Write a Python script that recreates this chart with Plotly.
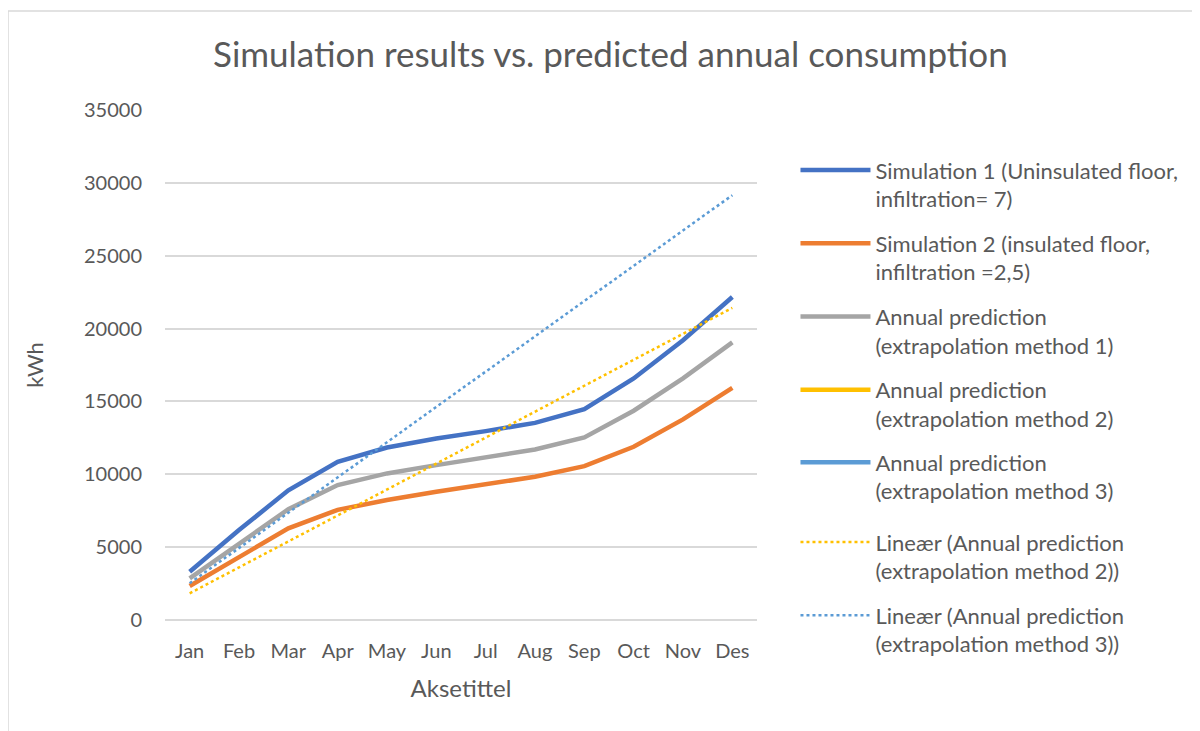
import plotly.graph_objects as go

months = ["Jan", "Feb", "Mar", "Apr", "May", "Jun", "Jul", "Aug", "Sep", "Oct", "Nov", "Des"]

sim1 = [3310, 6170, 8900, 10860, 11840, 12450, 12960, 13530, 14470, 16580, 19200, 22170]
sim2 = [2330, 4340, 6290, 7560, 8230, 8800, 9310, 9830, 10560, 11890, 13770, 15930]
method1 = [2860, 5260, 7600, 9260, 10060, 10630, 11160, 11700, 12530, 14360, 16580, 19050]

# trendline end points (Jan, Des)
trend_months = ["Jan", "Des"]
trend2 = [1830, 21420]
trend3 = [2520, 29150]

grey_text = "#595959"
font_family = "Lato, 'Open Sans', sans-serif"

fig = go.Figure()

def add_line(x, y, name, color, legend, dash="solid", width=4.5):
    fig.add_trace(go.Scatter(
        x=x, y=y, name=name, mode="lines",
        line=dict(color=color, width=width, dash=dash),
        legendgroup=name,
        legend=legend,
    ))

add_line(months, sim1, "Simulation 1 (Uninsulated floor,<br>infiltration= 7)", "#4472C4", "legend")
add_line(months, sim2, "Simulation 2 (insulated floor,<br>infiltration =2,5)", "#ED7D31", "legend")
add_line(months, method1, "Annual prediction<br>(extrapolation method 1)", "#A5A5A5", "legend")
add_line(months, [None] * len(months), "Annual prediction<br>(extrapolation method 2)", "#FFC000", "legend")
add_line(months, [None] * len(months), "Annual prediction<br>(extrapolation method 3)", "#5B9BD5", "legend2")
add_line(trend_months, trend2, "Lineær (Annual prediction<br>(extrapolation method 2))", "#FFC000", "legend3", dash="dot", width=2.5)
add_line(trend_months, trend3, "Lineær (Annual prediction<br>(extrapolation method 3))", "#5B9BD5", "legend3", dash="dot", width=2.5)


def legend_style(y):
    return dict(
        x=1.065, xanchor="left",
        y=y, yanchor="top",
        valign="top",
        itemwidth=70,
        tracegroupgap=13,
        font=dict(size=22, color=grey_text),
        bgcolor="rgba(0,0,0,0)",
    )


fig.update_layout(
    width=1200,
    height=731,
    paper_bgcolor="white",
    plot_bgcolor="white",
    margin=dict(l=157, r=451, t=102, b=119),
    font=dict(family=font_family, color=grey_text, size=20),
    title=dict(
        text="Simulation results vs. predicted annual consumption",
        x=0.502, xanchor="center", y=0.936, yanchor="middle",
        font=dict(size=35, color=grey_text),
    ),
    xaxis=dict(
        type="category",
        categoryorder="array",
        categoryarray=months,
        range=[-0.5, 11.5],
        showgrid=False,
        showline=False,
        ticks="",
        ticklabelstandoff=17,
        tickfont=dict(size=20, color=grey_text),
        title=dict(text="Aksetittel", font=dict(size=24, color=grey_text), standoff=19),
    ),
    yaxis=dict(
        range=[0, 35000],
        dtick=5000,
        tickformat="d",
        showgrid=True,
        gridcolor="#d9d9d9",
        gridwidth=1.5,
        zeroline=True,
        zerolinecolor="#d9d9d9",
        zerolinewidth=1.5,
        ticks="",
        ticklabelstandoff=22,
        tickfont=dict(size=20, color=grey_text),
        title=dict(text="kWh", font=dict(size=22, color=grey_text), standoff=34),
    ),
    legend=legend_style(0.923),
    legend2=legend_style(0.350),
    legend3=legend_style(0.1935),
    shapes=[dict(
        type="rect", xref="paper", yref="paper",
        x0=-0.2652, x1=1.76, y0=-0.25, y1=1.194,
        line=dict(color="#d9d9d9", width=1.5),
        fillcolor="rgba(0,0,0,0)",
    )],
)

fig.write_html("out.html")
